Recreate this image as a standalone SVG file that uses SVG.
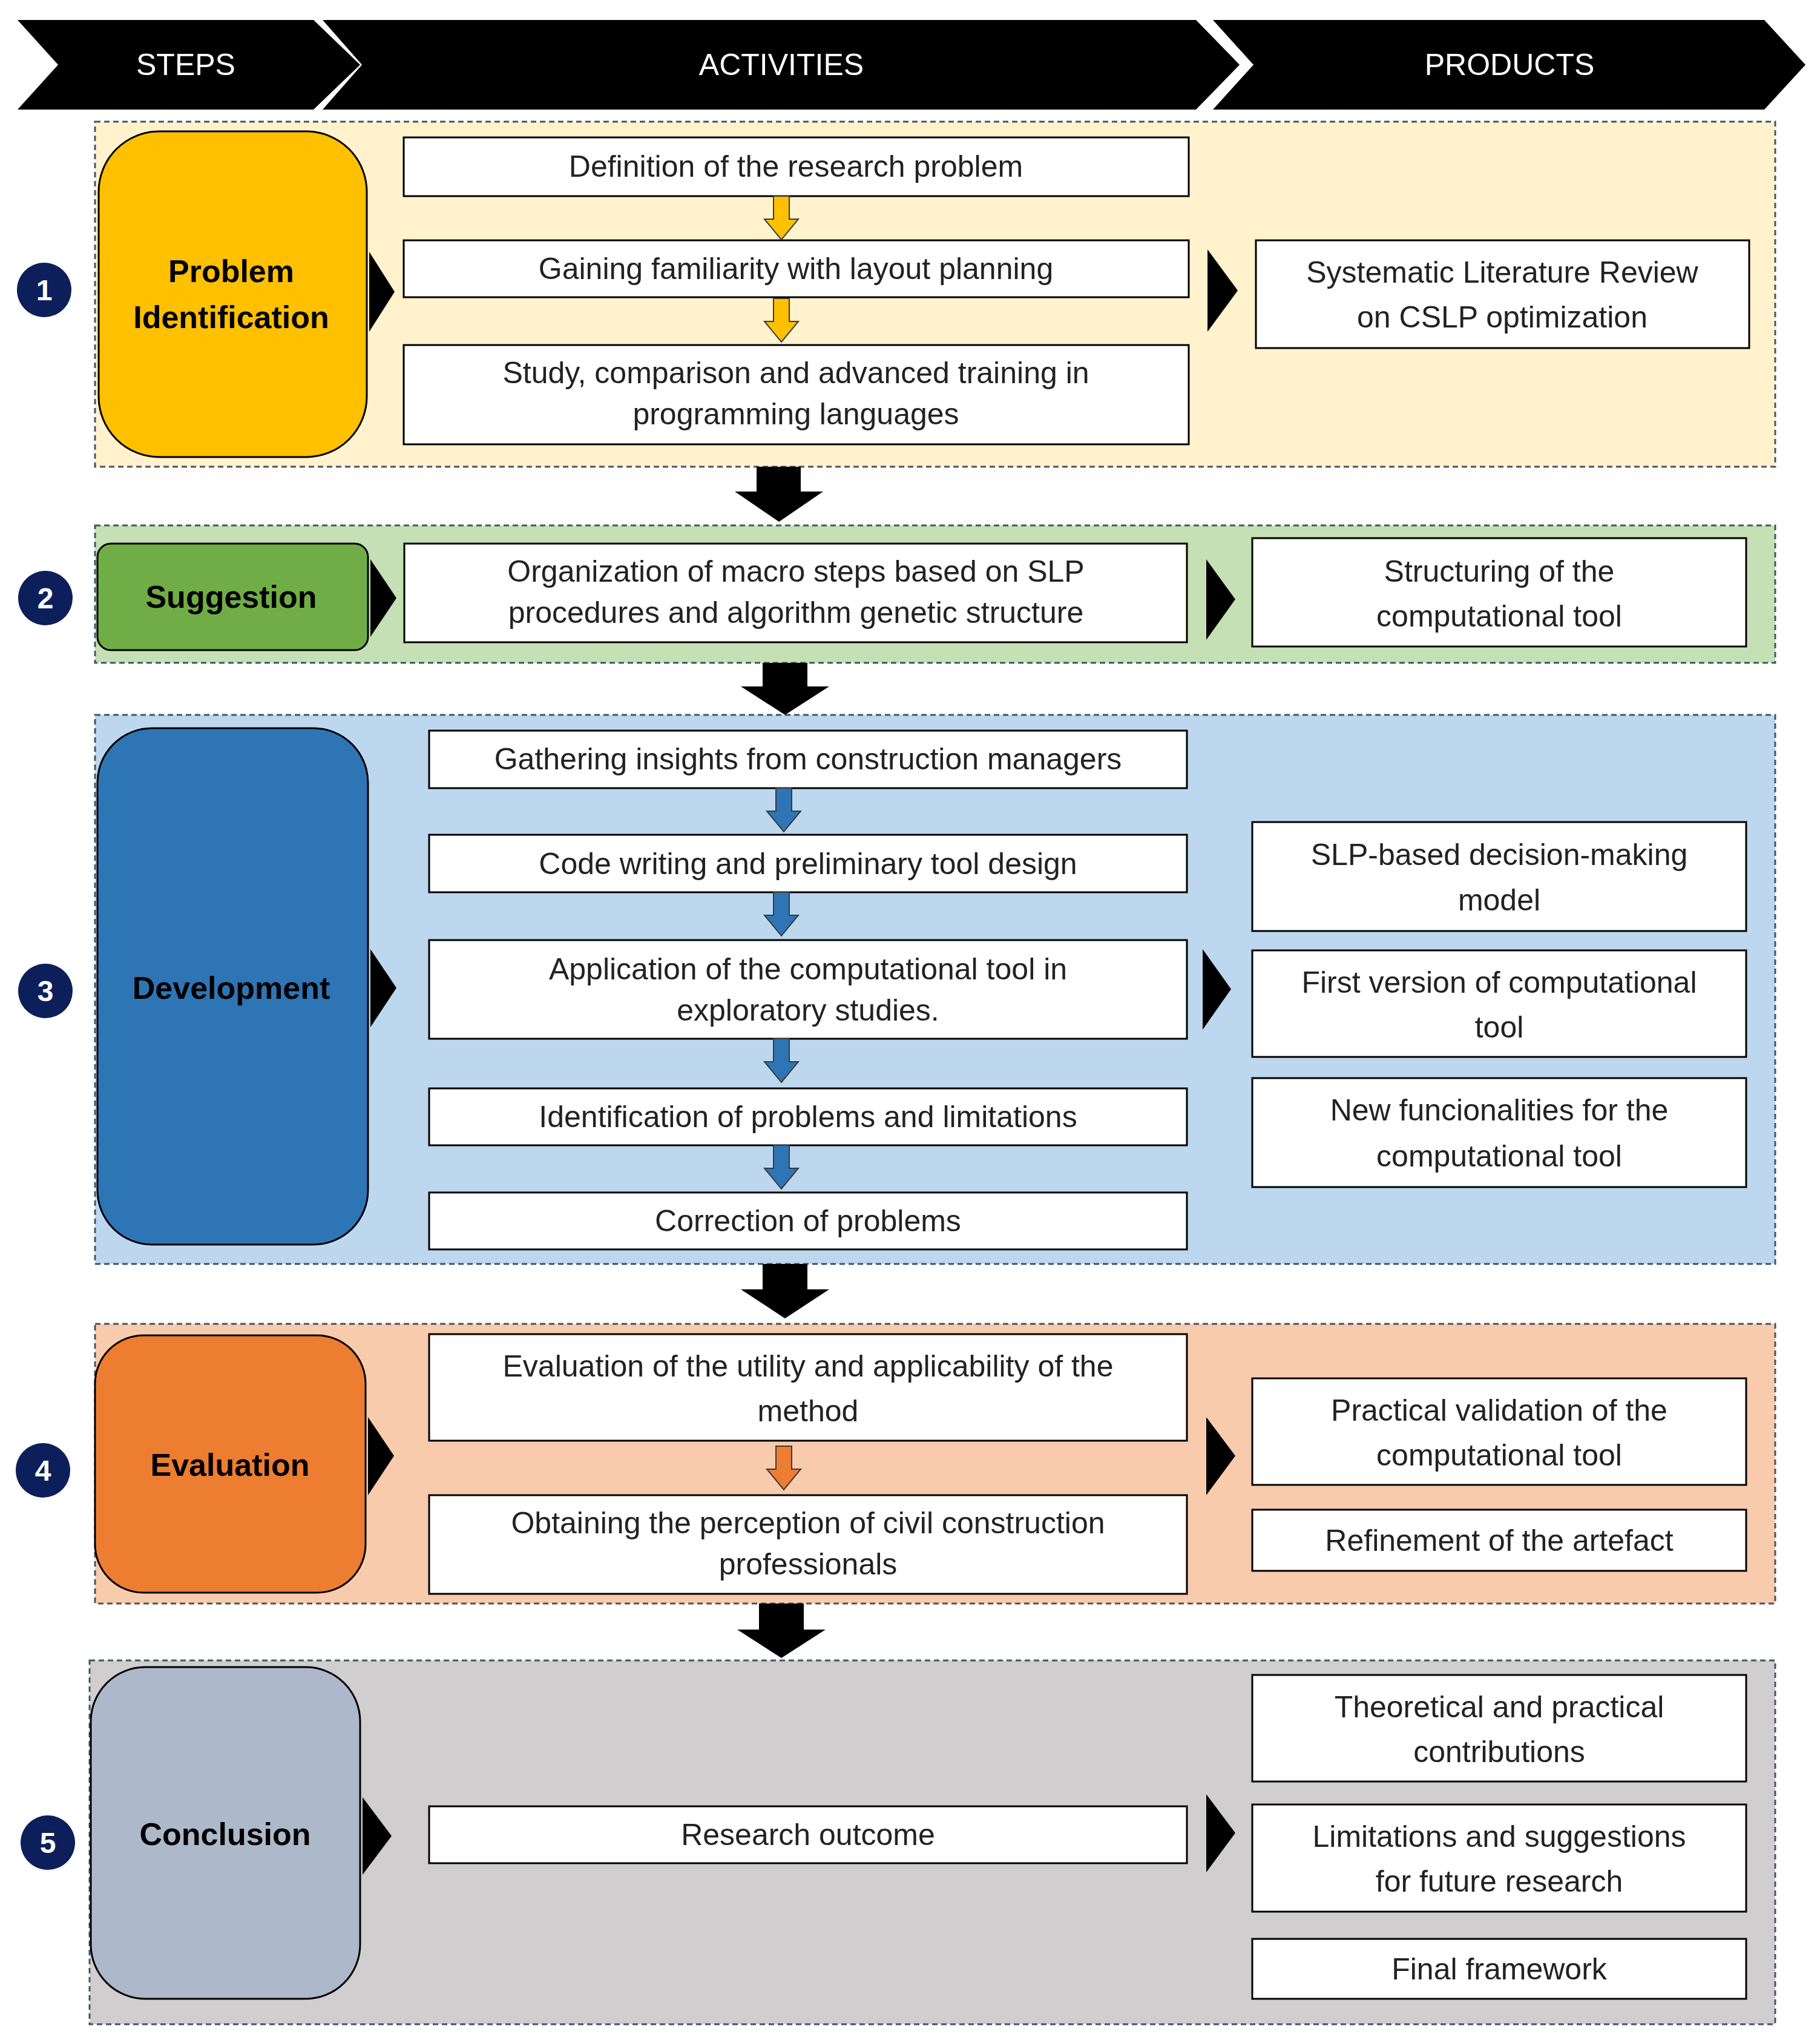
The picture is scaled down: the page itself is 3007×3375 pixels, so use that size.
<svg xmlns="http://www.w3.org/2000/svg" width="3007" height="3375" viewBox="0 0 3007 3375">
<style>
text{font-family:"Liberation Sans",Arial,sans-serif;text-anchor:middle;dominant-baseline:central;}
.t{font-size:50px;fill:#222}
.s{font-size:52px;font-weight:bold;fill:#000}
.h{font-size:50px;fill:#fff}
.n{font-size:48px;font-weight:bold;fill:#fff}
.box{fill:#fff;stroke:#000;stroke-width:3}
.sec{stroke:#44546A;stroke-width:3;stroke-dasharray:9,6}
.step{stroke:#000;stroke-width:3}
.tri{fill:#000}
.circ{fill:#0C1F5B}
</style>
<defs>
<path id="sa" d="M-13,0 H13 V38 H28 L0,72 L-28,38 H-13 Z" stroke="#3a3a3a" stroke-width="2"/>
</defs>
<g id="header">
<polygon points="29,33 518,33 595,107 518,181 29,181 96,107" fill="#000"/>
<polygon points="533,33 1976,33 2048,107 1976,181 533,181 598,107" fill="#000"/>
<polygon points="2004,33 2915,33 2983,107 2915,181 2004,181 2071,107" fill="#000"/>
<text class="h" x="307" y="107">STEPS</text>
<text class="h" x="1291" y="107">ACTIVITIES</text>
<text class="h" x="2494" y="107">PRODUCTS</text>
</g>
<g id="section1">
<rect class="sec" x="157" y="201" width="2776" height="570" fill="#FFF2CC"/>
<rect class="step" x="163" y="217" width="443" height="538" rx="100" fill="#FFC000"/>
<text class="s" x="382" y="448">Problem</text>
<text class="s" x="382" y="524">Identification</text>
<polygon class="tri" points="610,416 652,482 610,548"/>
<circle class="circ" cx="73" cy="479" r="45"/><text class="n" x="73" y="479">1</text>
<rect class="box" x="667" y="227" width="1297" height="97"/><text class="t" x="1315" y="275">Definition of the research problem</text>
<rect class="box" x="667" y="397" width="1297" height="94"/><text class="t" x="1315" y="444">Gaining familiarity with layout planning</text>
<rect class="box" x="667" y="570" width="1297" height="164"/><text class="t" x="1315" y="616">Study, comparison and advanced training in</text><text class="t" x="1315" y="684">programming languages</text>
<polygon class="tri" points="1995,412 2045,480 1995,548"/>
<rect class="box" x="2075" y="397" width="815" height="178"/><text class="t" x="2482" y="450">Systematic Literature Review</text><text class="t" x="2482" y="524">on CSLP optimization</text>
</g>
<g id="section2">
<rect class="sec" x="157" y="868" width="2776" height="227" fill="#C5E0B4"/>
<rect class="step" x="161" y="898" width="447" height="176" rx="22" fill="#70AD47"/>
<text class="s" x="382" y="986">Suggestion</text>
<polygon class="tri" points="612,924 655,988 612,1052"/>
<circle class="circ" cx="75" cy="988" r="45"/><text class="n" x="75" y="988">2</text>
<rect class="box" x="668" y="898" width="1293" height="163"/><text class="t" x="1315" y="944">Organization of macro steps based on SLP</text><text class="t" x="1315" y="1012">procedures and algorithm genetic structure</text>
<polygon class="tri" points="1993,924 2041,990 1993,1057"/>
<rect class="box" x="2069" y="889" width="816" height="179"/><text class="t" x="2477" y="944">Structuring of the</text><text class="t" x="2477" y="1018">computational tool</text>
</g>
<g id="section3">
<rect class="sec" x="157" y="1181" width="2776" height="907" fill="#BDD7EE"/>
<rect class="step" x="161" y="1203" width="447" height="853" rx="90" fill="#2E75B6"/>
<text class="s" x="382" y="1632">Development</text>
<polygon class="tri" points="612,1568 655,1632 612,1697"/>
<circle class="circ" cx="75" cy="1637" r="45"/><text class="n" x="75" y="1637">3</text>
<rect class="box" x="709" y="1207" width="1252" height="95"/><text class="t" x="1335" y="1254">Gathering insights from construction managers</text>
<rect class="box" x="709" y="1379" width="1252" height="95"/><text class="t" x="1335" y="1427">Code writing and preliminary tool design</text>
<rect class="box" x="709" y="1553" width="1252" height="163"/><text class="t" x="1335" y="1601">Application of the computational tool in</text><text class="t" x="1335" y="1669">exploratory studies.</text>
<rect class="box" x="709" y="1798" width="1252" height="94"/><text class="t" x="1335" y="1845">Identification of problems and limitations</text>
<rect class="box" x="709" y="1970" width="1252" height="94"/><text class="t" x="1335" y="2017">Correction of problems</text>
<polygon class="tri" points="1987,1568 2034,1634 1987,1701"/>
<rect class="box" x="2069" y="1358" width="816" height="180"/><text class="t" x="2477" y="1412">SLP-based decision-making</text><text class="t" x="2477" y="1487">model</text>
<rect class="box" x="2069" y="1570" width="816" height="176"/><text class="t" x="2477" y="1623">First version of computational</text><text class="t" x="2477" y="1697">tool</text>
<rect class="box" x="2069" y="1781" width="816" height="180"/><text class="t" x="2477" y="1834">New funcionalities for the</text><text class="t" x="2477" y="1910">computational tool</text>
</g>
<g id="section4">
<rect class="sec" x="157" y="2187" width="2776" height="462" fill="#F8CBAD"/>
<rect class="step" x="157" y="2206" width="447" height="425" rx="80" fill="#ED7D31"/>
<text class="s" x="380" y="2420">Evaluation</text>
<polygon class="tri" points="608,2341 651,2405 608,2470"/>
<circle class="circ" cx="71" cy="2429" r="45"/><text class="n" x="71" y="2429">4</text>
<rect class="box" x="709" y="2204" width="1252" height="176"/><text class="t" x="1335" y="2257">Evaluation of the utility and applicability of the</text><text class="t" x="1335" y="2331">method</text>
<rect class="box" x="709" y="2470" width="1252" height="163"/><text class="t" x="1335" y="2516">Obtaining the perception of civil construction</text><text class="t" x="1335" y="2584">professionals</text>
<polygon class="tri" points="1993,2341 2041,2405 1993,2470"/>
<rect class="box" x="2069" y="2277" width="816" height="176"/><text class="t" x="2477" y="2330">Practical validation of the</text><text class="t" x="2477" y="2404">computational tool</text>
<rect class="box" x="2069" y="2494" width="816" height="101"/><text class="t" x="2477" y="2545">Refinement of the artefact</text>
</g>
<g id="section5">
<rect class="sec" x="148" y="2743" width="2785" height="601" fill="#D0CECE"/>
<rect class="step" x="150" y="2754" width="445" height="548" rx="90" fill="#ADB9CA"/>
<text class="s" x="372" y="3030">Conclusion</text>
<polygon class="tri" points="599,2969 647,3033 599,3097"/>
<circle class="circ" cx="79" cy="3044" r="45"/><text class="n" x="79" y="3044">5</text>
<rect class="box" x="709" y="2984" width="1252" height="94"/><text class="t" x="1335" y="3031">Research outcome</text>
<polygon class="tri" points="1993,2964 2041,3028 1993,3093"/>
<rect class="box" x="2069" y="2767" width="816" height="176"/><text class="t" x="2477" y="2820">Theoretical and practical</text><text class="t" x="2477" y="2894">contributions</text>
<rect class="box" x="2069" y="2981" width="816" height="177"/><text class="t" x="2477" y="3034">Limitations and suggestions</text><text class="t" x="2477" y="3108">for future research</text>
<rect class="box" x="2069" y="3203" width="816" height="99"/><text class="t" x="2477" y="3253">Final framework</text>
</g>
<g id="connectors">
<use href="#sa" x="1291" y="324" fill="#FFC000"/>
<use href="#sa" x="1291" y="493" transform="translate(0,0)" fill="#FFC000"/>
<use href="#sa" x="1295" y="1302" fill="#2E75B6"/>
<use href="#sa" x="1291" y="1474" fill="#2E75B6"/>
<use href="#sa" x="1291" y="1716" fill="#2E75B6"/>
<use href="#sa" x="1291" y="1892" fill="#2E75B6"/>
<use href="#sa" x="1295" y="2389" fill="#ED7D31"/>
<polygon points="1250,771 1323,771 1323,812 1360,812 1287,862 1214,812 1250,812" fill="#000"/>
<polygon points="1260,1095 1334,1095 1334,1134 1370,1134 1297,1181 1224,1134 1260,1134" fill="#000"/>
<polygon points="1260,2088 1334,2088 1334,2130 1370,2130 1297,2178 1224,2130 1260,2130" fill="#000"/>
<polygon points="1254,2649 1328,2649 1328,2692 1364,2692 1291,2739 1218,2692 1254,2692" fill="#000"/>
</g>
</svg>
